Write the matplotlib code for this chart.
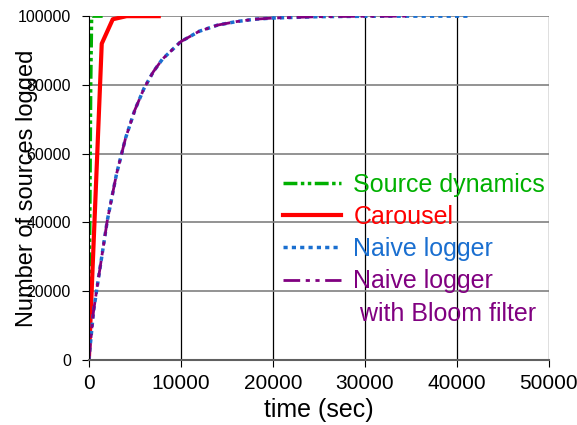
import matplotlib
matplotlib.use("Agg")
import matplotlib.pyplot as plt

plt.rcParams['font.family'] = ['Liberation Sans', 'DejaVu Sans']

# source dynamics
src_t = [0, 100, 200, 300, 600, 1000, 1500]
src_n = [0, 40000, 80000, 100000, 100000, 100000, 100000]

# carousel
car_t = [0, 1400, 2600, 4100, 7600]
car_n = [0, 92000, 99100, 100000, 100000]

# naive logger
naive_t = [0, 500, 1000, 2000, 3000, 4000, 5000, 6000, 7000, 8000, 10000,
           12000, 14000, 16000, 18000, 20000, 25000, 30000, 35000, 41200]
naive_n = [0, 14000, 23000, 40500, 54000, 64600, 72700, 79000, 83800, 87500, 92600,
           95600, 97400, 98400, 99100, 99450, 99850, 99960, 100000, 100000]

# naive logger with bloom filter
bloom_t = [0, 500, 1000, 2000, 3000, 4000, 5000, 6000, 7000, 8000, 10000,
           12000, 14000, 16000, 18000, 20000, 25000, 30000, 34700]
bloom_n = [0, 14000, 23000, 40500, 54000, 64600, 72700, 79000, 83800, 87500, 92600,
           95600, 97400, 98400, 99100, 99450, 99850, 99960, 100000]

fig = plt.figure(figsize=(5.77, 4.25), dpi=100)
ax = fig.add_axes([0.154, 0.153, 0.797, 0.809])

ax.plot(src_t, src_n, color="#00b000", lw=2.5, dashes=(4, 1, 1, 1, 1, 1), label="Source dynamics")
ax.plot(car_t, car_n, color="#ff0000", lw=3, label="Carousel")
ax.plot(naive_t, naive_n, color="#1a6fd0", lw=2.5, dashes=(1.2, 1.2), label="Naive logger")
ax.plot(bloom_t, bloom_n, color="#800080", lw=2, dashes=(6, 2, 1.5, 2, 1.5, 2),
        label="Naive logger")
# second line of the bloom filter label
ax.plot([], [], color="none", label=" with Bloom filter")

ax.set_xlim(0, 50000)
ax.set_ylim(0, 100000)
ax.set_xticks([0, 10000, 20000, 30000, 40000, 50000])
ax.set_yticks([0, 20000, 40000, 60000, 80000, 100000])
ax.tick_params(axis='x', labelsize=15, length=5, direction='out', pad=5)
ax.tick_params(axis='y', labelsize=11.5, length=5, direction='out', pad=8)

for x in [10000, 20000, 30000, 40000, 50000]:
    ax.axvline(x, color="black", lw=0.9, zorder=0)
for y in [20000, 40000, 60000, 80000, 100000]:
    ax.axhline(y, color="#808080", lw=1.2, zorder=0)

ax.spines['top'].set_visible(False)
ax.spines['right'].set_visible(False)
ax.spines['left'].set_color("black")
ax.spines['bottom'].set_color("#606060")
ax.spines['bottom'].set_linewidth(1.5)

ax.set_xlabel("time (sec)", fontsize=18, labelpad=4)
ax.set_ylabel("Number of sources logged", fontsize=17)
ax.yaxis.set_label_coords(-0.11, 0.5)

leg = ax.legend(loc="upper left", bbox_to_anchor=(0.423, 0.545), frameon=False, fontsize=18,
                handlelength=2.3, handletextpad=0.5, labelspacing=0.33,
                borderpad=0, borderaxespad=0)
colors = ["#00b000", "#ff0000", "#1a6fd0", "#800080", "#800080"]
for txt, c in zip(leg.get_texts(), colors):
    txt.set_color(c)

fig.savefig("out.png", dpi=100)
